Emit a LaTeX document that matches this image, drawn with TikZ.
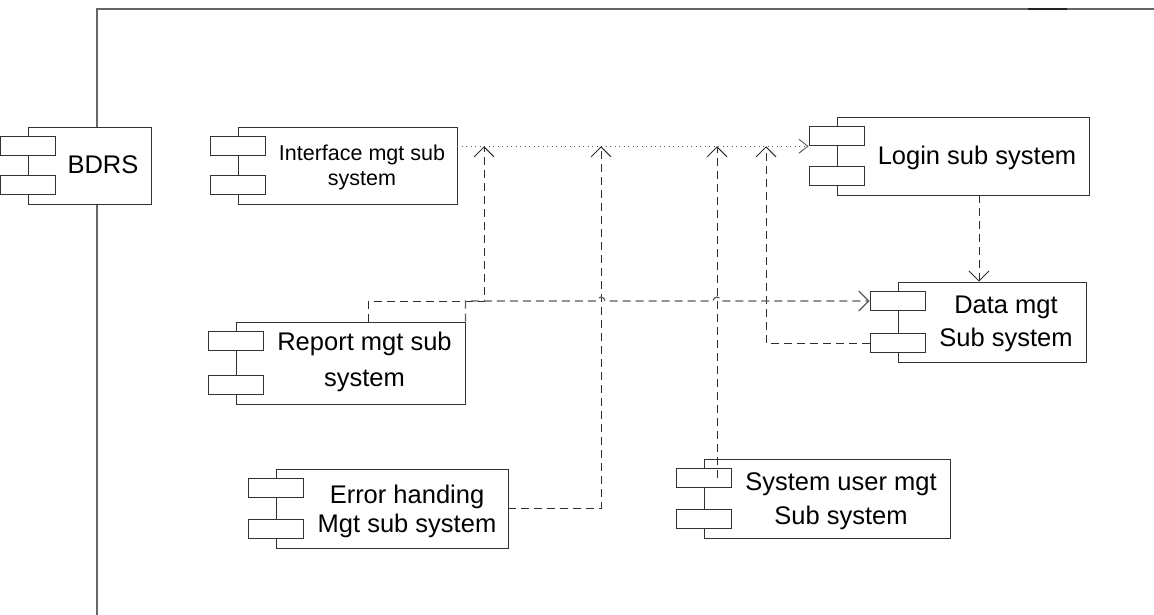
\documentclass[tikz,border=0pt]{standalone}
\usepackage{fontspec}
\setmainfont{Liberation Sans}
\usetikzlibrary{arrows.meta,calc}

\definecolor{frameline}{HTML}{666666}
\definecolor{framedark}{HTML}{222222}
\definecolor{boxline}{HTML}{333333}
\definecolor{wireline}{HTML}{2e2e2e}
\definecolor{busline}{HTML}{5a5a5a}

\begin{document}
\begin{tikzpicture}[x=1pt,y=-1pt,
  comp/.style 2 args={draw=boxline, fill=white, line width=0.9pt, inner sep=0pt,
    minimum width=#1, minimum height=#2},
  port/.style={draw=boxline, fill=white, line width=0.9pt, inner sep=0pt,
    minimum width=55pt, minimum height=19.5pt},
  comptext/.style 2 args={inner sep=0pt, anchor=base, text=black,
    font=\fontsize{#1}{#2}\selectfont},
  openhead/.style={-{Straight Barb[length=10pt,width=20pt]}},
  dashconn/.style={draw=wireline, line width=0.9pt, dash pattern=on 8pt off 5pt, openhead},
  busconn/.style={draw=busline, line width=1.2pt, dash pattern=on 8pt off 5pt, openhead},
  dotconn/.style={draw=busline, line width=0.9pt, dash pattern=on 1pt off 3.5pt,
    -{Straight Barb[length=9pt,width=14pt]}}
]
\useasboundingbox (0,0) rectangle (1154,615);

% package frame
\draw[frameline, line width=1.4pt] (97,615) -- (97,9) -- (1154,9);
\draw[framedark, line width=1.4pt] (1028,9) -- (1067,9);

% components
\node[comp={123pt}{77pt}] (bdrs) at (89.5,165.5) {};
\node[comp={219pt}{77pt}] (iface) at (347.5,165.5) {};
\node[comp={252pt}{78pt}] (login) at (963,156) {};
\node[comp={188pt}{80pt}] (data) at (992,322) {};
\node[comp={229pt}{82pt}] (report) at (350.5,363) {};
\node[comp={232pt}{79pt}] (error) at (392,508.5) {};
\node[comp={246pt}{79pt}] (sysuser) at (827,498.5) {};

% component ports
\foreach \c in {bdrs,iface,login,data,report,error,sysuser}{
  \node[port] (\c A) at ($(\c.north west)+(0,19.5)$) {};
  \node[port] (\c B) at ($(\c.south west)+(0,-19.5)$) {};
}

% component names
\node[comptext={25.5pt}{30pt}] (bdrsT) at (103,174) {BDRS};
\node[comptext={21.5pt}{25pt}] (ifaceT) at (362,160.3)
  {\begin{tabular}[t]{@{}c@{}}Interface mgt sub\\system\end{tabular}};
\node[comptext={25.5pt}{30pt}] (loginT) at (977,164.3) {Login sub system};
\node[comptext={25.5pt}{32.7pt}] (dataT) at (1006,313.4)
  {\begin{tabular}[t]{@{}c@{}}Data mgt\\Sub system\end{tabular}};
\node[comptext={25.5pt}{35.5pt}] (reportT) at (364.5,350.8)
  {\begin{tabular}[t]{@{}c@{}}Report mgt sub\\system\end{tabular}};
\node[comptext={25.5pt}{29.4pt}] (errorT) at (407,503.3)
  {\begin{tabular}[t]{@{}c@{}}Error handing\\Mgt sub system\end{tabular}};
\node[comptext={25.5pt}{34.3pt}] (sysuserT) at (841,490)
  {\begin{tabular}[t]{@{}c@{}}System user mgt\\Sub system\end{tabular}};

% arrow tips resting on the interface line
\coordinate (tR) at (484,146.25);
\coordinate (tE) at (601,146.25);
\coordinate (tS) at (717,146.25);
\coordinate (tD) at (766,146.25);
% connector ends off the component centres
\coordinate (loginOut) at ($(login.south)+(16,0)$);
\coordinate (reportOut) at ($(report.north)+(17.5,0)$);
\coordinate (reportBend) at ($(report.north)+(17.5,-20)$);

% dependencies
\draw[dotconn] (iface.east |- loginA.south) -- (loginA.south west);
\draw[dashconn] (reportOut) -- (reportBend) -| (tR);
\draw[dashconn] (error.east) -| (tE);
\draw[dashconn] (tS |- sysuserA.center) -- (tS);
\draw[dashconn] (dataB.west) -| (tD);
\draw[dashconn] (loginOut) -- (loginOut |- data.north);
\draw[busconn] (report.north east) -- (report.north east |- dataA.west)
  -- ($(tE |- dataA.west)+(-4,0)$) arc[start angle=180,end angle=0,radius=4pt]
  -- ($(tS |- dataA.west)+(-4,0)$) arc[start angle=180,end angle=0,radius=4pt]
  -- (dataA.west);
\end{tikzpicture}
\end{document}
